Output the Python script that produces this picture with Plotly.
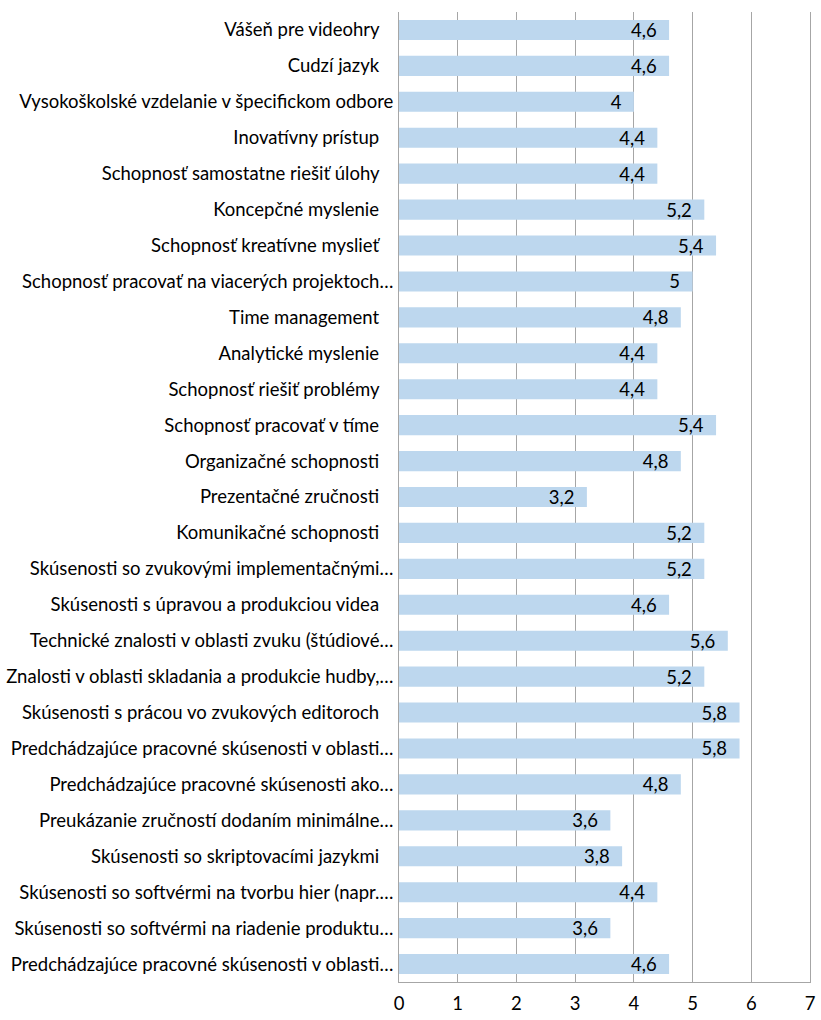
import plotly.graph_objects as go

PAD = "\u00a0" * 3

skills = [
    "Vášeň pre videohry" + PAD,
    "Cudzí jazyk" + PAD,
    "Vysokoškolské vzdelanie v špecifickom odbore",
    "Inovatívny prístup" + PAD,
    "Schopnosť samostatne riešiť úlohy" + PAD,
    "Koncepčné myslenie" + PAD,
    "Schopnosť kreatívne myslieť" + PAD,
    "Schopnosť pracovať na viacerých projektoch…",
    "Time management" + PAD,
    "Analytické myslenie" + PAD,
    "Schopnosť riešiť problémy" + PAD,
    "Schopnosť pracovať v tíme" + PAD,
    "Organizačné schopnosti" + PAD,
    "Prezentačné zručnosti" + PAD,
    "Komunikačné schopnosti" + PAD,
    "Skúsenosti so zvukovými implementačnými…",
    "Skúsenosti s úpravou a produkciou videa" + PAD,
    "Technické znalosti v oblasti zvuku (štúdiové…",
    "Znalosti v oblasti skladania a produkcie hudby,…",
    "Skúsenosti s prácou vo zvukových editoroch" + PAD,
    "Predchádzajúce pracovné skúsenosti v oblasti…",
    "Predchádzajúce pracovné skúsenosti ako…",
    "Preukázanie zručností dodaním minimálne…",
    "Skúsenosti so skriptovacími jazykmi" + PAD,
    "Skúsenosti so softvérmi na tvorbu hier (napr.…",
    "Skúsenosti so softvérmi na riadenie produktu…",
    "Predchádzajúce pracovné skúsenosti v oblasti…",
]

scores = [4.6, 4.6, 4.0, 4.4, 4.4, 5.2, 5.4, 5.0, 4.8, 4.4, 4.4, 5.4, 4.8, 3.2,
          5.2, 5.2, 4.6, 5.6, 5.2, 5.8, 5.8, 4.8, 3.6, 3.8, 4.4, 3.6, 4.6]

x_ticks = [0, 1, 2, 3, 4, 5, 6, 7]

# value labels use a decimal comma, with a little room before the bar end
labels = [f"{v:g}".replace(".", ",") + "\u00a0\u00a0" for v in scores]
positions = list(range(len(skills)))

FONT = "Lato, 'Open Sans', sans-serif"
SIZE = 18.5
GRID = "#A6A6A6"

fig = go.Figure(
    go.Bar(
        x=scores,
        y=positions,
        orientation="h",
        marker=dict(color="#BDD7EE", line=dict(width=0)),
        text=labels,
        textposition="inside",
        insidetextanchor="end",
        textangle=0,
        constraintext="none",
        textfont=dict(family=FONT, size=SIZE, color="#000000"),
        width=0.56,
        hoverinfo="skip",
    )
)

fig.update_layout(
    width=821,
    height=1020,
    margin=dict(l=397, r=6, t=12, b=38),
    paper_bgcolor="white",
    plot_bgcolor="white",
    showlegend=False,
    font=dict(family=FONT, size=SIZE, color="#000000"),
    xaxis=dict(
        range=[0, 7],
        tickvals=x_ticks,
        ticktext=[str(t) for t in x_ticks],
        showgrid=True,
        gridcolor=GRID,
        gridwidth=1,
        showline=True,
        linecolor=GRID,
        linewidth=1,
        zeroline=False,
        ticks="outside",
        ticklen=5,
        tickcolor="rgba(0,0,0,0)",
        tickfont=dict(family=FONT, size=SIZE, color="#000000"),
        fixedrange=True,
    ),
    yaxis=dict(
        range=[len(skills) - 0.5, -0.5],
        tickvals=positions,
        ticktext=skills,
        showgrid=False,
        showline=True,
        mirror=True,
        linecolor=GRID,
        linewidth=1,
        zeroline=False,
        ticks="outside",
        ticklen=1,
        tickcolor="rgba(0,0,0,0)",
        tickfont=dict(family=FONT, size=SIZE, color="#000000"),
        fixedrange=True,
    ),
)

fig.write_html("out.html")
